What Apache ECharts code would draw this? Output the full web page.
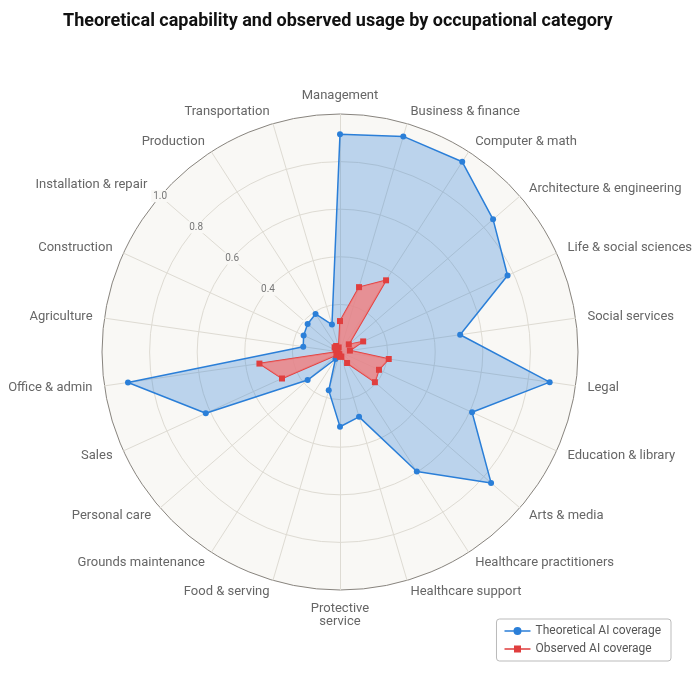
<!DOCTYPE html>
<html>
<head>
<meta charset="utf-8">
<script src="https://cdn.jsdelivr.net/npm/echarts@6/dist/echarts.min.js"></script>
<style>
	html, body { margin: 0; padding: 0; background: #fff; }
	#radarChart { width: 693px; height: 691px; }
</style>
</head>
<body>
<div id="radarChart"></div>
<script>
// categories clockwise from the top
var categories = [
	'Management', 'Business & finance', 'Computer & math', 'Architecture & engineering',
	'Life & social sciences', 'Social services', 'Legal', 'Education & library',
	'Arts & media', 'Healthcare practitioners', 'Healthcare support', 'Protective\nservice',
	'Food & serving', 'Grounds maintenance', 'Personal care', 'Sales',
	'Office & admin', 'Agriculture', 'Construction', 'Installation & repair',
	'Production', 'Transportation'
]
var theoretical = [
	0.915, 0.944, 0.95, 0.851,
	0.774, 0.51, 0.89, 0.61,
	0.84, 0.597, 0.284, 0.314,
	0.168, 0.035, 0.18, 0.62,
	0.90, 0.156, 0.168, 0.18,
	0.19, 0.12
]
var observed = [
	0.13, 0.284, 0.358, 0.049,
	0.107, 0.042, 0.207, 0.18,
	0.194, 0.055, 0.02, 0.02,
	0.01, 0.01, 0.02, 0.268,
	0.342, 0.01, 0.02, 0.03,
	0.03, 0.02
]
var radialTicks = ['0.4', '0.6', '0.8', '1.0']
var labelAxis = 'Installation & repair'

// echarts radar runs counter-clockwise, so keep the first one and reverse the rest
function toRadarOrder(arr) {
	return [arr[0]].concat(arr.slice(1).reverse())
}

var myEchart = echarts.init(document.getElementById('radarChart'))

var indicators = toRadarOrder(categories).map(function(name) {
	var item = { name: name, min: 0, max: 1 }
	if (name === labelAxis) {
		item.axisLabel = {
			show: true,
			margin: 0,
			align: 'center',
			verticalAlign: 'middle',
			color: '#777',
			fontSize: 10,
			fontFamily: 'Roboto',
			backgroundColor: '#f9f8f5',
			padding: [1, 2],
			formatter: function(v) {
				var t = Number(v).toFixed(1)
				return radialTicks.indexOf(t) > -1 ? t : ''
			}
		}
	}
	return item
})

var lineIcon = 'path://M0,3.3 L26,3.3 L26,4.7 L0,4.7 Z M17,4 A4,4 0 1,1 9,4 A4,4 0 1,1 17,4 Z'
var rectIcon = 'path://M0,3.3 L26,3.3 L26,4.7 L0,4.7 Z M9.5,0.5 L16.5,0.5 L16.5,7.5 L9.5,7.5 Z'

var option = {
	backgroundColor: '#ffffff',
	title: {
		text: 'Theoretical capability and observed usage by occupational category',
		left: 58,
		top: 7,
		textStyle: {
			color: '#111',
			fontSize: 18,
			fontWeight: 'bold',
			fontFamily: 'Roboto'
		}
	},
	legend: {
		orient: 'vertical',
		right: 22,
		bottom: 30,
		itemWidth: 26,
		itemHeight: 8,
		itemGap: 6,
		padding: [6, 10, 6, 8],
		backgroundColor: '#fff',
		borderColor: '#bbb',
		borderWidth: 1,
		borderRadius: 3,
		textStyle: {
			color: '#555',
			fontSize: 12,
			fontFamily: 'Roboto'
		},
		data: [
			{ name: 'Theoretical AI coverage', icon: lineIcon },
			{ name: 'Observed AI coverage', icon: rectIcon }
		]
	},
	radar: {
		center: [340, 352],
		radius: 238,
		startAngle: 90,
		shape: 'circle',
		splitNumber: 5,
		indicator: indicators,
		nameGap: 12,
		axisName: {
			color: '#666',
			fontSize: 13,
			fontFamily: 'Roboto'
		},
		axisLabel: {
			show: false
		},
		axisTick: { show: false },
		axisLine: {
			lineStyle: {
				color: '#dedbd3',
				width: 1
			}
		},
		splitLine: {
			lineStyle: {
				color: ['#dedbd3', '#dedbd3', '#dedbd3', '#dedbd3', '#dedbd3', '#88847e'],
				width: 1
			}
		},
		splitArea: {
			show: true,
			areaStyle: {
				color: ['#f9f8f5']
			}
		}
	},
	series: [{
		type: 'radar',
		symbolSize: 6,
		data: [{
			name: 'Theoretical AI coverage',
			value: toRadarOrder(theoretical),
			symbol: 'circle',
			lineStyle: { color: '#2b7fd8', width: 1.5 },
			itemStyle: { color: '#2b7fd8' },
			areaStyle: { color: '#2b7fd8', opacity: 0.3 }
		}, {
			name: 'Observed AI coverage',
			value: toRadarOrder(observed),
			symbol: 'rect',
			lineStyle: { color: '#e03e3e', width: 1.5 },
			itemStyle: { color: '#e03e3e' },
			areaStyle: { color: '#f17f7f', opacity: 0.8 }
		}]
	}]
}
myEchart.setOption(option)
</script>
</body>
</html>
